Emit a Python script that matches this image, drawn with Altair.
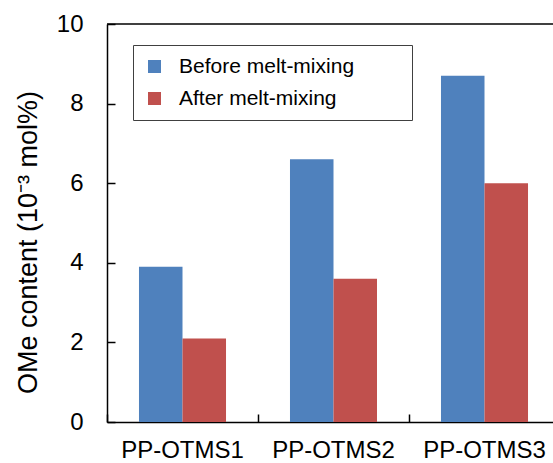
import altair as alt
import pandas as pd

samples = ["PP-OTMS1", "PP-OTMS2", "PP-OTMS3"]
series = ["Before melt-mixing", "After melt-mixing"]
before = [3.9, 6.6, 8.7]
after = [2.1, 3.6, 6.0]
colors = ["#4F81BD", "#C0504D"]
y_ticks = [0, 2, 4, 6, 8, 10]

rows = []
for s, b, a in zip(samples, before, after):
    rows.append({"sample": s, "series": series[0], "value": b})
    rows.append({"sample": s, "series": series[1], "value": a})
df = pd.DataFrame(rows)

FONT = "Liberation Sans"
W, H = 446, 398

xscale = alt.Scale(domain=samples, range=[0, 453], paddingInner=0, paddingOuter=0)
yscale = alt.Scale(domain=[0, 10], nice=False)
offscale = alt.Scale(domain=series, paddingInner=0, paddingOuter=0.735)

bars = alt.Chart(df).mark_bar().encode(
    x=alt.X("sample:N", scale=xscale, sort=samples,
            axis=alt.Axis(orient="bottom", title=None, labelAngle=0, ticks=False,
                          labelFontSize=24, labelFont=FONT, labelColor="#000",
                          labelPadding=16, domainColor="#000", domainWidth=1.5)),
    xOffset=alt.XOffset("series:N", scale=offscale, sort=series),
    y=alt.Y("value:Q", scale=yscale,
            axis=alt.Axis(orient="left", values=y_ticks, ticks=False, grid=False,
                          title="OMe content (10⁻³ mol%)", titleFontSize=27,
                          titleFont=FONT, titleFontWeight="normal", titleColor="#000",
                          titlePadding=14, titleY=218,
                          labelFontSize=24, labelFont=FONT, labelColor="#000",
                          labelPadding=24, domainColor="#000", domainWidth=1.5)),
    color=alt.Color("series:N", sort=series,
                    scale=alt.Scale(domain=series, range=colors),
                    legend=alt.Legend(orient="none", legendX=26, legendY=21,
                                      title="MMMM", titleOrient="right", titleOpacity=0,
                                      titleFontSize=12, titlePadding=7,
                                      symbolType="square", symbolSize=169,
                                      symbolStrokeWidth=0, labelLimit=400,
                                      labelFontSize=21, labelFont=FONT, labelColor="#000",
                                      labelOffset=14, rowPadding=10, padding=11,
                                      strokeColor="#404040", fillColor="#fff")),
)

ticks = alt.Chart(df).mark_bar(opacity=0).encode(
    x=alt.X("sample:N", scale=xscale, sort=samples,
            axis=alt.Axis(orient="bottom", title=None, labels=False, domain=False,
                          ticks=True, tickSize=8, tickColor="#000", tickWidth=1.5,
                          bandPosition=0, offset=-8)),
    xOffset=alt.XOffset("series:N", scale=offscale, sort=series),
    y=alt.Y("value:Q", scale=yscale,
            axis=alt.Axis(orient="left", values=y_ticks, title=None, labels=False,
                          domain=False, grid=False, ticks=True, tickSize=8,
                          tickColor="#000", tickWidth=1.5, offset=-8)),
)

top = alt.Chart(pd.DataFrame({"v": [0]})).mark_rule(color="#000", strokeWidth=1.5).encode(
    y=alt.value(0), x=alt.value(0), x2=alt.value(W)
)

chart = alt.layer(bars, ticks, top).resolve_axis(x="independent", y="independent").properties(
    width=W, height=H,
    autosize=alt.AutoSizeParams(type="none"),
    padding={"left": 107, "top": 24, "right": 0, "bottom": 41},
).configure_view(stroke=None)

chart.save("out.html", embed_options={"renderer": "svg", "actions": False})
